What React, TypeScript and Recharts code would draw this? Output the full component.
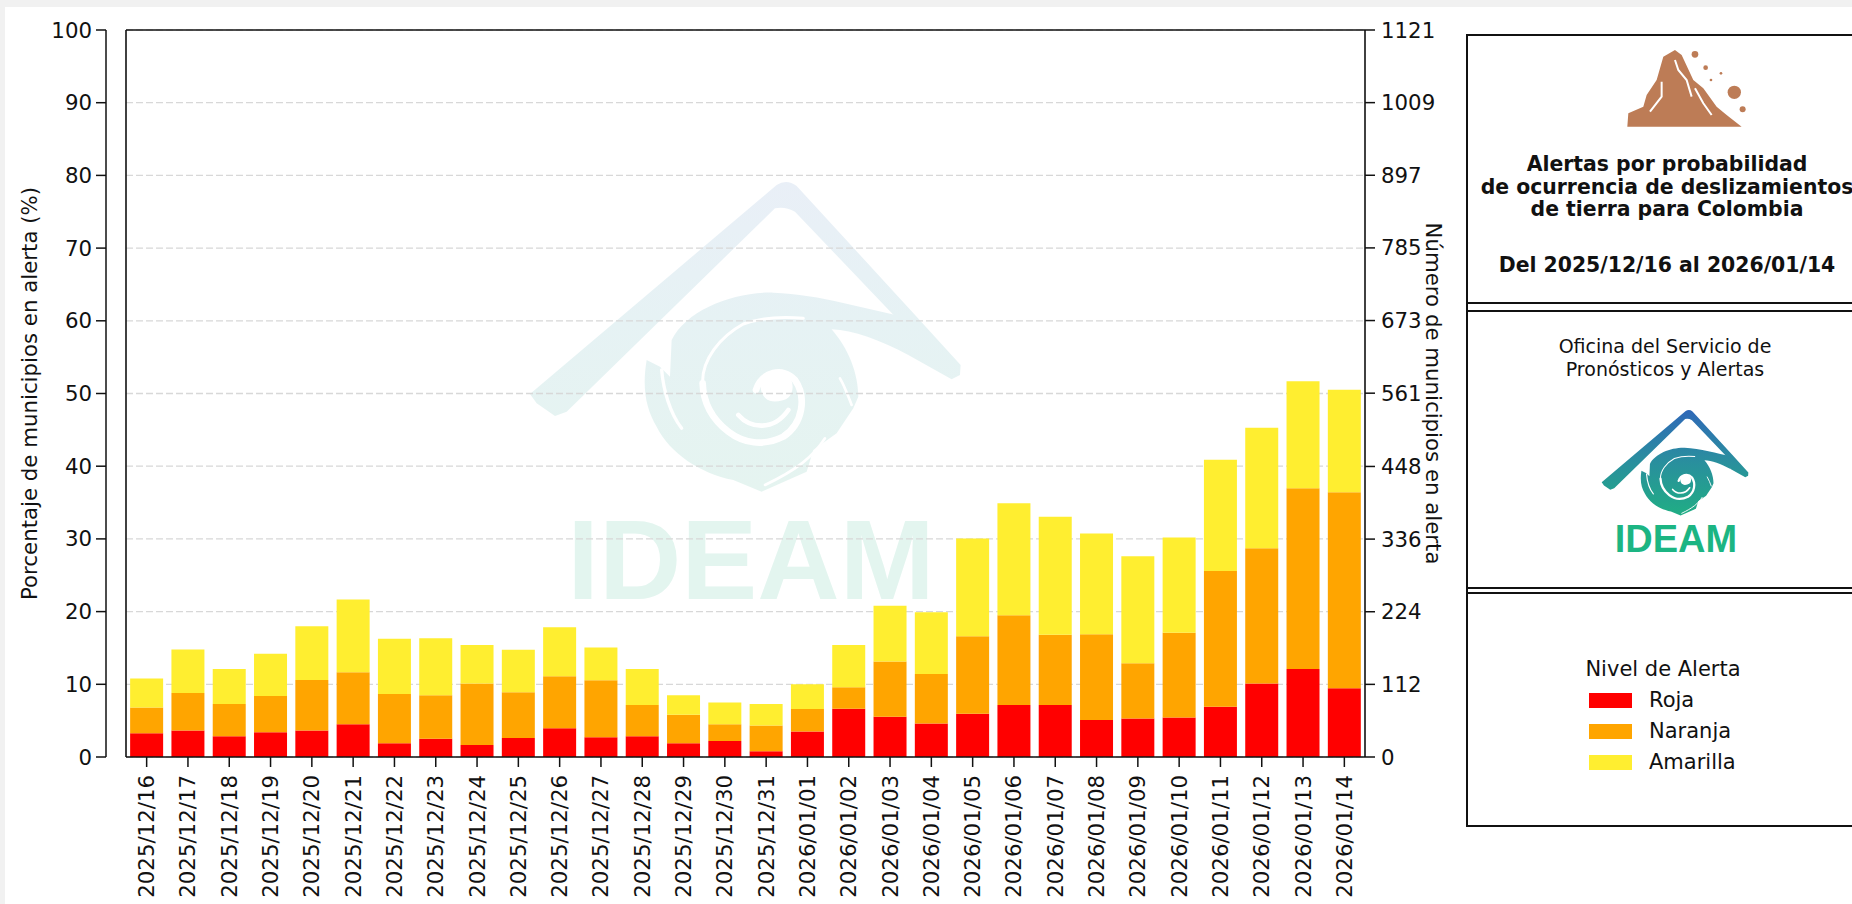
import { Bar, CartesianGrid, ComposedChart, Legend, Line, ReferenceLine, XAxis, YAxis } from 'recharts';

const dates = [
  '2025/12/16', '2025/12/17', '2025/12/18', '2025/12/19', '2025/12/20', '2025/12/21',
  '2025/12/22', '2025/12/23', '2025/12/24', '2025/12/25', '2025/12/26', '2025/12/27',
  '2025/12/28', '2025/12/29', '2025/12/30', '2025/12/31', '2026/01/01', '2026/01/02',
  '2026/01/03', '2026/01/04', '2026/01/05', '2026/01/06', '2026/01/07', '2026/01/08',
  '2026/01/09', '2026/01/10', '2026/01/11', '2026/01/12', '2026/01/13', '2026/01/14',
];
const roja = [
  3.25, 3.65, 2.85, 3.4, 3.65, 4.5, 1.9, 2.5, 1.65, 2.6, 3.95, 2.7, 2.85, 1.9, 2.2,
  0.8, 3.5, 6.65, 5.55, 4.6, 5.95, 7.15, 7.15, 5.1, 5.3, 5.45, 6.9, 10.1, 12.1, 9.45,
];
const naranja = [
  3.55, 5.15, 4.45, 5.0, 6.95, 7.15, 6.75, 6.0, 8.45, 6.3, 7.15, 7.85, 4.3, 3.9, 2.3,
  3.55, 3.1, 2.95, 7.6, 6.8, 10.65, 12.35, 9.65, 11.8, 7.6, 11.65, 18.7, 18.6, 24.85, 26.95,
];
const amarilla = [
  4.0, 6.0, 4.8, 5.8, 7.4, 10.0, 7.6, 7.85, 5.3, 5.85, 6.75, 4.5, 4.95, 2.7, 3.0,
  2.95, 3.4, 5.8, 7.65, 8.5, 13.45, 15.4, 16.25, 13.85, 14.7, 13.1, 15.3, 16.6, 14.75, 14.1,
];
// same totals in municipalities, only there to carry the right axis
const municipios = [
  121, 166, 136, 159, 202, 243, 182, 183, 173, 165, 200, 169, 136, 95, 84,
  82, 112, 173, 233, 223, 337, 391, 370, 345, 309, 339, 458, 508, 580, 566,
];
const percentTicks = [0, 10, 20, 30, 40, 50, 60, 70, 80, 90, 100];
const countTicks = [0, 112, 224, 336, 448, 561, 673, 785, 897, 1009, 1121];

const chartData = dates.map((date, i) => ({
  date,
  Roja: roja[i],
  Naranja: naranja[i],
  Amarilla: amarilla[i],
  municipios: municipios[i],
}));

const FONT = '"DejaVu Sans", sans-serif';
const AXIS_COLOR = '#111';
const TICK_STYLE = { fontSize: 21.3, fontFamily: FONT, fill: '#111' };

// IDEAM mark, drawn in its own coordinates; used big (watermark) and small (logo)
const IdeamMark = ({ paint, transform }: { paint: string; transform: string }) => (
  <g transform={transform}>
    {/* roof */}
    <path
      d="M30 672 L770 45 Q800 25 830 48 L1190 440 L1322 585 L1320 615 L1295 628 L1165 555 L1130 445 L825 125 Q795 108 765 115 L140 725 L105 738 L50 700 Z"
      fill={paint}
    />
    {/* swirl body */}
    <path
      d="M455 510 C500 420 640 365 760 368 C900 372 1040 420 1180 445 L1165 555 C1080 510 1000 480 935 478 C985 535 1015 610 1015 680 L1000 715 L950 790 L880 840 L860 905 L725 965 L640 930 C540 910 450 850 410 770 C380 720 365 660 380 570 L420 590 L450 620 Z"
      fill={paint}
    />
    {/* white cuts inside the swirl */}
    <g fill="none" stroke="#fff" strokeLinecap="round">
      <path d="M425 600 C430 660 450 730 485 775" strokeWidth={10} />
      <path d="M850 445 C780 438 720 445 670 462 C600 500 545 570 548 640" strokeWidth={9} />
      <path
        d="M548 640 C550 700 580 750 625 785 C670 820 730 830 790 800 C850 760 860 680 825 630 C790 590 725 605 708 660"
        strokeWidth={20}
      />
      <path d="M655 735 C690 775 760 785 805 720" strokeWidth={14} />
      <circle cx={770} cy={650} r={48} fill="#fff" stroke="none" />
      <path d="M960 625 C975 650 985 680 995 705" strokeWidth={8} />
      <path d="M915 805 C880 860 830 900 735 945" strokeWidth={8} />
    </g>
    <path d="M705 680 C735 705 775 710 810 690" fill="none" stroke={paint} strokeWidth={16} strokeLinecap="round" />
  </g>
);

const IdeamWatermark = () => (
  <svg
    width={1852}
    height={904}
    style={{ position: 'absolute', left: 0, top: 0 }}
  >
    <defs>
      <linearGradient id="paleMark" gradientUnits="userSpaceOnUse" x1="0" y1="35" x2="0" y2="960">
        <stop offset="0" stopColor="#e9eff7" />
        <stop offset="0.45" stopColor="#e6f2f4" />
        <stop offset="1" stopColor="#e5f4f0" />
      </linearGradient>
    </defs>
    <IdeamMark paint="url(#paleMark)" transform="translate(520 170) scale(0.3333)" />
    <text
      x={751}
      y={599}
      textAnchor="middle"
      fontFamily='"Liberation Sans", sans-serif'
      fontWeight={700}
      fontSize={114}
      fill="#e3f5ef"
    >
      IDEAM
    </text>
  </svg>
);

const SidePanel = () => (
  <svg
    width={1852}
    height={904}
    style={{ position: 'absolute', left: 0, top: 0, pointerEvents: 'none' }}
    fontFamily={FONT}
    fill="#111"
  >
    <defs>
      <linearGradient id="logoMark" gradientUnits="userSpaceOnUse" x1="0" y1="35" x2="0" y2="960">
        <stop offset="0" stopColor="#2f68b8" />
        <stop offset="0.45" stopColor="#2a8ca0" />
        <stop offset="1" stopColor="#20ad84" />
      </linearGradient>
    </defs>

    {/* frame */}
    <g stroke="#111" strokeWidth={2} fill="none">
      <path d="M1852 35 H1467 V826 H1852" />
      <path d="M1467 303 H1852 M1467 311 H1852" />
      <path d="M1467 588 H1852 M1467 593 H1852" />
    </g>

    {/* landslide icon */}
    <g transform="translate(1440 0) scale(0.3333)">
      <path
        d="M562 380 L565 340 L610 320 L620 285 L650 240 L670 170 L705 150 L725 165 L760 240 L790 265 L830 320 L860 345 L905 380 Z"
        fill="#bd7c56"
      />
      <path
        d="M705 180 L715 210 L740 240 L755 290 M665 245 L665 290 L630 335 M765 265 L790 310 L815 345"
        fill="none"
        stroke="#fff"
        strokeWidth={6}
      />
      <circle cx={765} cy={163} r={10} fill="#bd7c56" />
      <circle cx={797} cy={203} r={7} fill="#bd7c56" />
      <circle cx={843} cy={220} r={4} fill="#bd7c56" />
      <circle cx={813} cy={240} r={4} fill="#bd7c56" />
      <circle cx={883} cy={277} r={20} fill="#bd7c56" />
      <circle cx={908} cy={328} r={9} fill="#bd7c56" />
    </g>

    <g textAnchor="middle" fontWeight={700} fontSize={20.4}>
      <text x={1667} y={171}>Alertas por probabilidad</text>
      <text x={1667} y={194}>de ocurrencia de deslizamientos</text>
      <text x={1667} y={216}>de tierra para Colombia</text>
      <text x={1667} y={272}>Del 2025/12/16 al 2026/01/14</text>
    </g>

    <g textAnchor="middle" fontSize={19}>
      <text x={1665} y={353}>Oficina del Servicio de</text>
      <text x={1665} y={376}>Pronósticos y Alertas</text>
    </g>

    <IdeamMark paint="url(#logoMark)" transform="translate(1598.3 406) scale(0.1135)" />
    <text
      x={1676}
      y={552}
      textAnchor="middle"
      fontFamily='"Liberation Sans", sans-serif'
      fontWeight={700}
      fontSize={38}
      fill="#1cb583"
    >
      IDEAM
    </text>
  </svg>
);

const DateTick = ({ x, y, payload }: any) => (
  <text
    transform={`translate(${x} ${y}) rotate(-90)`}
    textAnchor="end"
    dominantBaseline="central"
    {...TICK_STYLE}
  >
    {payload.value}
  </text>
);

const AlertLegend = ({ payload }: any) => (
  <div style={{ fontFamily: FONT, fontSize: 21, color: '#111', width: 190, position: 'relative', height: 115 }}>
    <div style={{ position: 'absolute', left: 0, width: 190, top: 1, lineHeight: '24px', textAlign: 'center' }}>
      Nivel de Alerta
    </div>
    {(payload ?? [])
      .filter((item: any) => item.value !== 'municipios')
      .map((item: any, i: number) => (
        <div
          key={item.value}
          style={{ position: 'absolute', left: 21, top: 32 + i * 31, height: 24, display: 'flex', alignItems: 'center' }}
        >
          <span style={{ display: 'inline-block', width: 43, height: 15, marginRight: 17, backgroundColor: item.color }} />
          <span style={{ lineHeight: '24px' }}>{item.value}</span>
        </div>
      ))}
  </div>
);

export default function App() {
  return (
    <div style={{ position: 'fixed', left: 0, top: 0, width: 1852, height: 904, background: '#f1f1f1', overflow: 'hidden' }}>
      <div style={{ position: 'absolute', left: 5, top: 7, width: 1847, height: 897, background: '#fff' }} />
      <IdeamWatermark />
      <div style={{ position: 'absolute', left: 0, top: 0 }}>
        <ComposedChart
          width={1852}
          height={904}
          data={chartData}
          margin={{ top: 30, right: 427, bottom: 0, left: 0 }}
          barCategoryGap="10%"
        >
          <CartesianGrid
            yAxisId="left"
            vertical={false}
            stroke="#d8d8d8"
            strokeWidth={1.3}
            strokeDasharray="7 3"
          />
          <XAxis
            dataKey="date"
            interval={0}
            height={147}
            tickSize={10}
            tickMargin={8}
            tick={<DateTick />}
            axisLine={{ stroke: AXIS_COLOR, strokeWidth: 1.5 }}
            tickLine={{ stroke: AXIS_COLOR, strokeWidth: 1.5 }}
          />
          {/* box side at the plot's left edge; the labelled axis stands off from it */}
          <YAxis
            yAxisId="frame"
            orientation="left"
            width={20}
            domain={[0, 100]}
            tick={false}
            tickLine={false}
            axisLine={{ stroke: AXIS_COLOR, strokeWidth: 1.6 }}
          />
          <YAxis
            yAxisId="left"
            orientation="left"
            width={106}
            domain={[0, 100]}
            ticks={percentTicks}
            interval={0}
            tickSize={10}
            tickMargin={4}
            tick={TICK_STYLE}
            axisLine={{ stroke: AXIS_COLOR, strokeWidth: 1.5 }}
            tickLine={{ stroke: AXIS_COLOR, strokeWidth: 1.5 }}
            label={{
              value: 'Porcentaje de municipios en alerta (%)',
              angle: -90,
              position: 'insideLeft',
              dx: 24,
              style: { ...TICK_STYLE, textAnchor: 'middle' },
            }}
          />
          <YAxis
            yAxisId="right"
            orientation="right"
            width={60}
            domain={[0, 1121]}
            ticks={countTicks}
            interval={0}
            tickSize={10}
            tickMargin={6}
            tick={TICK_STYLE}
            axisLine={{ stroke: AXIS_COLOR, strokeWidth: 1.6 }}
            tickLine={{ stroke: AXIS_COLOR, strokeWidth: 1.5 }}
            label={{
              value: 'Número de municipios en alerta',
              angle: 90,
              position: 'insideRight',
              dx: 14,
              style: { ...TICK_STYLE, textAnchor: 'middle' },
            }}
          />
          <ReferenceLine yAxisId="left" y={100} stroke={AXIS_COLOR} strokeWidth={1.6} />
          <Bar yAxisId="left" dataKey="Roja" stackId="alerta" fill="#ff0000" isAnimationActive={false} />
          <Bar yAxisId="left" dataKey="Naranja" stackId="alerta" fill="#ffa500" isAnimationActive={false} />
          <Bar yAxisId="left" dataKey="Amarilla" stackId="alerta" fill="#ffee30" isAnimationActive={false} />
          <Line
            yAxisId="right"
            dataKey="municipios"
            stroke="none"
            dot={false}
            legendType="none"
            isAnimationActive={false}
          />
          <Legend
            layout="horizontal"
            align="center"
            verticalAlign="middle"
            itemSorter={null}
            content={<AlertLegend />}
            wrapperStyle={{ position: 'absolute', left: 1568, top: 656, width: 190, height: 115 }}
          />
        </ComposedChart>
      </div>
      <SidePanel />
    </div>
  );
}
